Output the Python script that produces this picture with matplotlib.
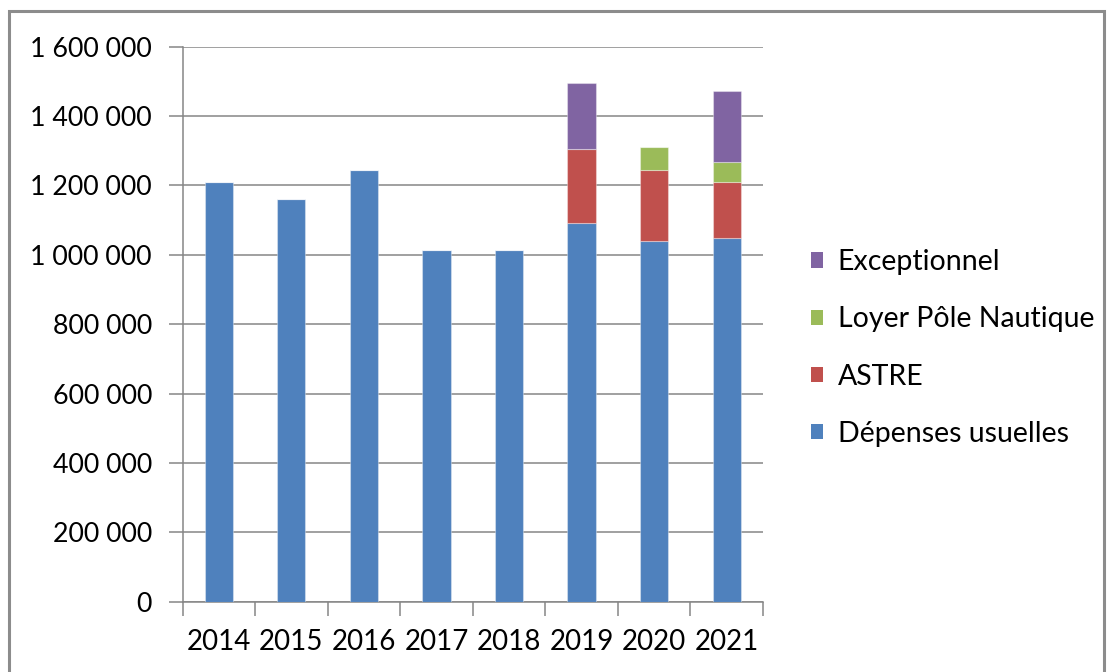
import matplotlib
matplotlib.use("Agg")
import matplotlib.pyplot as plt
from matplotlib.patches import Rectangle, Patch
from matplotlib.ticker import FuncFormatter, MultipleLocator
import numpy as np

years = ["2014", "2015", "2016", "2017", "2018", "2019", "2020", "2021"]
depenses = [1210000, 1160000, 1244000, 1014000, 1014000, 1091000, 1040000, 1048000]
astre = [0, 0, 0, 0, 0, 213000, 204000, 161000]
loyer = [0, 0, 0, 0, 0, 0, 67000, 59000]
exceptionnel = [0, 0, 0, 0, 0, 190000, 0, 204000]

series_names = ["Dépenses usuelles", "ASTRE", "Loyer Pôle Nautique", "Exceptionnel"]
colors = ["#4F81BD", "#C0504D", "#9BBB59", "#8064A2"]

plt.rcParams['font.family'] = ['Lato', 'DejaVu Sans']

W, H = 1110, 672
fig = plt.figure(figsize=(W / 100, H / 100), dpi=100)

# outer chart border
fig.patches.append(Rectangle((9 / W, -0.01), (1104 - 9) / W, (H - 11) / H + 0.01,
                             transform=fig.transFigure, fill=False,
                             edgecolor="#8c8c8c", linewidth=2.2))

left, right = 182.5, 763
bottom_px, top_px = 601.7, 46.7
ax = fig.add_axes([left / W, (H - bottom_px) / H, (right - left) / W, (bottom_px - top_px) / H])

x = np.arange(len(years))
data = [depenses, astre, loyer, exceptionnel]
base = np.zeros(len(years))
handles = []
for vals, name, c in zip(data, series_names, colors):
    v = np.array(vals, dtype=float)
    ax.bar(x, v, 0.39, bottom=base, color=c, edgecolor=(1, 1, 1, 0.35), linewidth=0.8, zorder=3)
    base += v
    handles.append(Patch(facecolor=c, edgecolor="none", label=name))

ax.set_xlim(-0.5, len(years) - 0.5)
ax.set_ylim(0, 1600000)
ax.yaxis.set_major_locator(MultipleLocator(200000))
ax.yaxis.set_major_formatter(FuncFormatter(lambda v, p: f"{int(v):,}".replace(",", " ")))
ax.grid(axis="y", color="#868686", linewidth=1.1, zorder=0)
ax.set_axisbelow(True)

ax.set_xticks(x)
ax.set_xticklabels(years)
ax.set_xticks(np.arange(len(years) + 1) - 0.5, minor=True)
ax.tick_params(axis="x", which="major", length=0, pad=20, labelsize=20, colors="black")
ax.tick_params(axis="x", which="minor", length=10, width=1.1, color="#868686", direction="out")
ax.tick_params(axis="y", length=10, width=1.1, color="#868686", pad=12, labelsize=19.3, direction="out")

for s in ["top", "right"]:
    ax.spines[s].set_visible(False)
for s in ["left", "bottom"]:
    ax.spines[s].set_color("#868686")
    ax.spines[s].set_linewidth(1.1)

leg = fig.legend(handles=handles[::-1], loc="center left",
                 bbox_to_anchor=(785 / W, (H - 348) / H), frameon=False,
                 fontsize=20.5, handlelength=0.45, handleheight=0.45,
                 handletextpad=0.5, labelspacing=1.1)

fig.savefig("out.png", dpi=100)
